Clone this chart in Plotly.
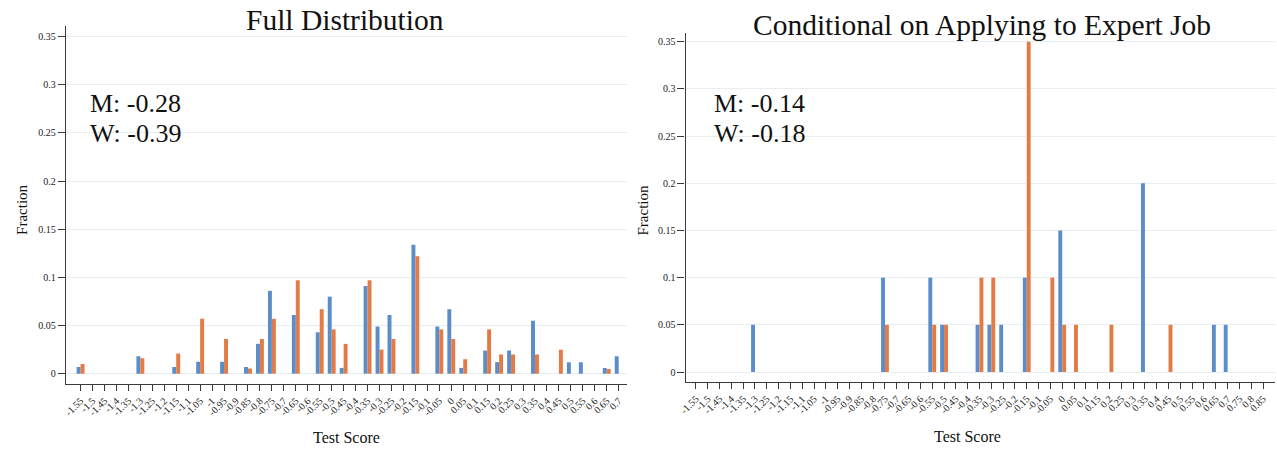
import plotly.graph_objects as go

# ---- data: fraction of test takers per 0.05-wide test-score bin ----
full_bins_m = [-1.55, -1.3, -1.15, -1.05, -0.95, -0.85, -0.8, -0.75, -0.65, -0.55, -0.5, -0.45,
               -0.35, -0.3, -0.25, -0.15, -0.05, 0.0, 0.05, 0.15, 0.2, 0.25, 0.35, 0.5, 0.55, 0.65, 0.7]
full_frac_m = [0.007, 0.018, 0.007, 0.0125, 0.0125, 0.007, 0.031, 0.086, 0.061, 0.043, 0.080, 0.006,
               0.091, 0.049, 0.061, 0.134, 0.049, 0.067, 0.006, 0.024, 0.012, 0.024, 0.055, 0.012, 0.012, 0.006, 0.018]

full_bins_w = [-1.55, -1.3, -1.15, -1.05, -0.95, -0.85, -0.8, -0.75, -0.65, -0.55, -0.5, -0.45,
               -0.35, -0.3, -0.25, -0.15, -0.05, 0.0, 0.05, 0.15, 0.2, 0.25, 0.35, 0.45, 0.65]
full_frac_w = [0.010, 0.016, 0.021, 0.057, 0.036, 0.0055, 0.036, 0.057, 0.097, 0.067, 0.046, 0.031,
               0.097, 0.025, 0.036, 0.122, 0.046, 0.036, 0.015, 0.046, 0.020, 0.020, 0.020, 0.025, 0.005]

expert_bins_m = [-1.3, -0.75, -0.55, -0.5, -0.35, -0.3, -0.25, -0.15, 0.0, 0.35, 0.65, 0.7]
expert_frac_m = [0.05, 0.10, 0.10, 0.05, 0.05, 0.05, 0.05, 0.10, 0.15, 0.20, 0.05, 0.05]

expert_bins_w = [-0.75, -0.55, -0.5, -0.35, -0.3, -0.15, -0.05, 0.0, 0.05, 0.2, 0.45]
expert_frac_w = [0.05, 0.05, 0.05, 0.10, 0.10, 0.35, 0.10, 0.05, 0.05, 0.05, 0.05]

# tick labels on the test-score axes
ticks_full = [round(-1.55 + 0.05 * i, 2) for i in range(46)]      # -1.55 ... 0.7
ticks_expert = [round(-1.55 + 0.05 * i, 2) for i in range(49)]    # -1.55 ... 0.85
y_ticks = [0, 0.05, 0.1, 0.15, 0.2, 0.25, 0.3, 0.35]

means_full = ["M: -0.28", "W: -0.39"]
means_expert = ["M: -0.14", "W: -0.18"]

BLUE = "#5b8dcb"
ORANGE = "#e47b45"
GRID = "#e8edf2"
AXIS = "#3a3a3a"
FONT = "Liberation Serif"
W, H = 1277, 450
BAR_W = 0.0165


def tick_text(vals):
    return [f"{v:g}" for v in vals]


fig = go.Figure()

for xs, ys, color, off, xa, ya in [
    (full_bins_m, full_frac_m, BLUE, -BAR_W, "x", "y"),
    (full_bins_w, full_frac_w, ORANGE, 0.0, "x", "y"),
    (expert_bins_m, expert_frac_m, BLUE, -BAR_W, "x2", "y2"),
    (expert_bins_w, expert_frac_w, ORANGE, 0.0, "x2", "y2"),
]:
    fig.add_trace(go.Bar(
        x=xs, y=ys, width=BAR_W, offset=off,
        marker=dict(color=color, line=dict(width=0)),
        xaxis=xa, yaxis=ya, showlegend=False, hoverinfo="x+y",
    ))

common_x = dict(
    showline=True, linecolor=AXIS, linewidth=1.3,
    ticks="outside", ticklen=6, tickcolor=AXIS, tickwidth=1,
    tickangle=-45, tickfont=dict(family=FONT, size=10, color="#222"),
    showgrid=False, zeroline=False, fixedrange=True,
)
common_y = dict(
    showline=True, linecolor=AXIS, linewidth=1.3,
    ticks="outside", ticklen=7, tickcolor=AXIS, tickwidth=1,
    tickvals=y_ticks, ticktext=tick_text(y_ticks),
    tickfont=dict(family=FONT, size=10, color="#222"),
    showgrid=True, gridcolor=GRID, gridwidth=1,
    zeroline=False, fixedrange=True,
)

fig.update_layout(
    width=W, height=H,
    margin=dict(l=0, r=0, t=0, b=0),
    paper_bgcolor="white", plot_bgcolor="white",
    barmode="overlay",
    font=dict(family=FONT),
    xaxis=dict(common_x, domain=[59.3 / W, 623 / W], range=[-1.611, 0.733],
               tickvals=ticks_full, ticktext=tick_text(ticks_full), anchor="y"),
    yaxis=dict(common_y, domain=[(H - 384) / H, (H - 26) / H], range=[-0.0107, 0.3611], anchor="x"),
    xaxis2=dict(common_x, domain=[682.3 / W, 1275 / W], range=[-1.5938, 0.9005],
                tickvals=ticks_expert, ticktext=tick_text(ticks_expert), anchor="y2"),
    yaxis2=dict(common_y, domain=[(H - 382) / H, (H - 33) / H], range=[-0.0106, 0.3593], anchor="x2"),
)


def px(x, y):
    return x / W, 1 - y / H


annotations = []


def add_text(text, x, y, size, xanchor="center", angle=0):
    ax, ay = px(x, y)
    annotations.append(dict(
        text=text, x=ax, y=ay, xref="paper", yref="paper",
        xanchor=xanchor, yanchor="middle", showarrow=False, textangle=angle,
        font=dict(family=FONT, size=size, color="#111"),
    ))


# panel titles
add_text("Full Distribution", 340, 20, 29.5)
add_text("Conditional on Applying to Expert Job", 980, 25, 29.5)

# mean scores by gender
add_text(means_full[0], 81, 103, 26, xanchor="left")
add_text(means_full[1], 81, 134, 26, xanchor="left")
add_text(means_expert[0], 709, 103, 26, xanchor="left")
add_text(means_expert[1], 709, 134, 26, xanchor="left")

# axis titles
add_text("Fraction", 15, 210, 15, angle=-90)
add_text("Fraction", 640, 210, 15, angle=-90)
add_text("Test Score", 341, 437, 16)
add_text("Test Score", 966, 436, 16)

fig.update_layout(annotations=annotations)

fig.write_html("out.html")
